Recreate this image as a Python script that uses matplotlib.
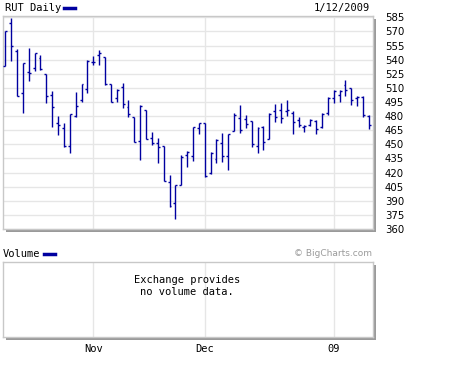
import matplotlib
matplotlib.use("Agg")
import matplotlib.pyplot as plt
from matplotlib.patches import Rectangle
from matplotlib.lines import Line2D
import numpy as np
import pandas as pd

# ---- data ----
holidays = ["2008-11-27", "2008-12-25", "2009-01-01"]
dates = [d for d in pd.bdate_range("2008-10-13", "2009-01-12") if d.strftime("%Y-%m-%d") not in holidays]

opens = [533.6, 578.6, 548.9, 504.2, 526.6, 531.1, 541.4, 524.7, 502.1, 472.7,
         467.0, 448.2, 480.1, 497.4, 508.8,
         537.2, 544.9, 542.5, 514.1, 498.9, 510.6, 490.0, 479.4, 453.9, 486.5,
         456.4, 451.1, 448.2, 410.3, 388.0, 406.8, 438.7, 437.6, 467.0,
         472.5, 419.9, 434.4, 451.7, 437.6, 464.5, 477.7, 476.5, 475.0, 448.2,
         468.0, 455.4, 485.7, 486.0, 485.5, 483.0, 476.0, 468.5, 470.5, 475.0,
         468.7, 483.0,
         498.9, 502.4, 513.1, 509.5, 498.9, 500.6, 480.5]
highs = [570.8, 584.3, 551.3, 536.1, 552.4, 547.1, 544.9, 524.7, 507.0, 480.1,
         472.7, 482.2, 505.6, 514.1, 539.6,
         543.9, 550.2, 542.5, 514.1, 509.3, 515.5, 497.1, 479.4, 491.8, 486.5,
         463.1, 456.4, 448.2, 417.4, 406.8, 438.7, 443.2, 468.7, 473.0,
         473.0, 442.2, 455.4, 461.7, 460.7, 483.0, 491.3, 481.2, 475.0, 468.0,
         469.5, 483.0, 492.5, 493.6, 497.1, 485.0, 479.4, 470.5, 476.6, 475.9,
         483.0, 500.6,
         507.7, 507.7, 518.4, 509.5, 501.4, 501.4, 481.2]
lows = [533.6, 538.9, 501.0, 483.6, 517.6, 528.3, 529.0, 493.6, 468.1, 460.2,
        447.5, 441.1, 478.7, 495.3, 504.5,
        534.3, 534.3, 513.1, 494.5, 494.5, 488.9, 479.4, 452.2, 433.4, 455.4,
        449.0, 430.5, 411.4, 383.7, 370.3, 406.8, 425.6, 432.6, 461.0,
        415.0, 418.5, 429.8, 431.5, 422.7, 464.5, 461.7, 467.0, 446.8, 440.5,
        444.0, 455.4, 474.1, 472.4, 480.1, 461.0, 468.0, 463.4, 469.5, 461.0,
        467.0, 481.2,
        493.6, 495.3, 501.4, 491.8, 490.7, 479.4, 466.3]
closes = [570.8, 554.2, 501.0, 536.1, 525.5, 547.1, 530.1, 501.7, 489.4, 470.5,
          448.2, 482.2, 490.4, 514.1, 538.6,
          537.8, 546.7, 513.6, 494.5, 507.7, 492.9, 482.2, 452.5, 491.0, 455.4,
          451.7, 446.8, 411.4, 384.0, 406.8, 436.9, 442.2, 468.7, 472.4,
          416.0, 441.1, 454.6, 437.6, 460.7, 481.2, 465.2, 472.0, 450.4, 467.0,
          452.8, 482.2, 479.4, 478.0, 487.0, 474.0, 470.5, 469.0, 475.9, 466.0,
          482.2, 498.9,
          507.0, 507.0, 507.7, 497.1, 500.6, 481.2, 470.5]

y_ticks = [360, 375, 390, 405, 420, 435, 450, 465, 480, 495, 510, 525, 540, 555, 570, 585]
month_labels = ["Nov", "Dec", "09"]
month_starts = ["2008-11-03", "2008-12-01", "2009-01-02"]

title = "RUT Daily"
date_label = "1/12/2009"

# ---- figure ----
W, H = 452, 366
fig = plt.figure(figsize=(W / 100, H / 100), dpi=100)
fig.patch.set_facecolor("white")

def fbox(x0, y0, x1, y1):
    return [x0 / W, 1 - y1 / H, (x1 - x0) / W, (y1 - y0) / H]

bar_color = "#0000a0"
grid_color = "#e6e6e6"
spine_color = "#c8c8c8"
shadow = "#9a9a9a"

x = np.arange(len(dates))
date_str = [d.strftime("%Y-%m-%d") for d in dates]
month_pos = [date_str.index(m) for m in month_starts]
xlim = (-0.39, len(dates) - 1 + 0.69)

def add_shadow(box):
    x0, y0, x1, y1 = box
    r = Rectangle(((x0 + 3) / W, 1 - (y1 + 3) / H), (x1 - x0) / W, (y1 - y0) / H,
                  transform=fig.transFigure, facecolor=shadow, edgecolor="none", zorder=-1)
    fig.patches.append(r)

main_box = (3, 16, 373, 229)
vol_box = (3, 262, 373, 337)
add_shadow(main_box)
add_shadow(vol_box)

ax = fig.add_axes(fbox(*main_box))
ax.set_xlim(*xlim)
ax.set_ylim(360, 586.4)
ax.set_yticks(y_ticks)
ax.yaxis.tick_right()
ax.tick_params(axis="y", length=0, pad=8.5, labelsize=7.3, labelcolor="#000000")
ax.set_xticks([])
for y in y_ticks:
    ax.axhline(y, color=grid_color, lw=1.0, zorder=0)
for m in month_pos:
    ax.axvline(m, color=grid_color, lw=1.0, zorder=0)
for s in ax.spines.values():
    s.set_color(spine_color)
    s.set_linewidth(1.0)

tick_w = 0.33
ax.vlines(x, lows, highs, color=bar_color, lw=1.0, zorder=3)
ax.hlines(opens, x - tick_w, x, color=bar_color, lw=1.0, zorder=3)
ax.hlines(closes, x, x + tick_w, color=bar_color, lw=1.0, zorder=3)

# volume panel
axv = fig.add_axes(fbox(*vol_box))
axv.set_xlim(*xlim)
axv.set_ylim(0, 1)
axv.set_yticks([])
axv.set_xticks(month_pos)
axv.set_xticklabels(month_labels, family="DejaVu Sans Mono", fontsize=7.5)
axv.tick_params(axis="x", length=0, pad=5)
for m in month_pos:
    axv.axvline(m, color=grid_color, lw=1.0, zorder=0)
for s in axv.spines.values():
    s.set_color(spine_color)
    s.set_linewidth(1.0)
axv.text(0.497, 0.68, "Exchange provides\nno volume data.", transform=axv.transAxes,
         ha="center", va="center", family="DejaVu Sans Mono", fontsize=7.5,
         linespacing=1.25)

# header texts
fig.text(5 / W, 1 - 8 / H, title, ha="left", va="center", family="DejaVu Sans Mono", fontsize=7.5)
fig.lines.append(Line2D([64 / W, 75 / W], [1 - 8 / H, 1 - 8 / H], transform=fig.transFigure,
                        color=bar_color, lw=2.5))
fig.text(370 / W, 1 - 8 / H, date_label, ha="right", va="center", family="DejaVu Sans Mono", fontsize=7.5)

fig.text(3 / W, 1 - 254 / H, "Volume", ha="left", va="center", family="DejaVu Sans Mono", fontsize=7.5)
fig.lines.append(Line2D([44 / W, 55 / W], [1 - 254 / H, 1 - 254 / H], transform=fig.transFigure,
                        color=bar_color, lw=2.5))
fig.text(372 / W, 1 - 253 / H, "\u00a9 BigCharts.com", ha="right", va="center",
         family="DejaVu Sans", fontsize=6.5, color="#9a9a9a")

fig.savefig("out.png", dpi=100, facecolor="white")
